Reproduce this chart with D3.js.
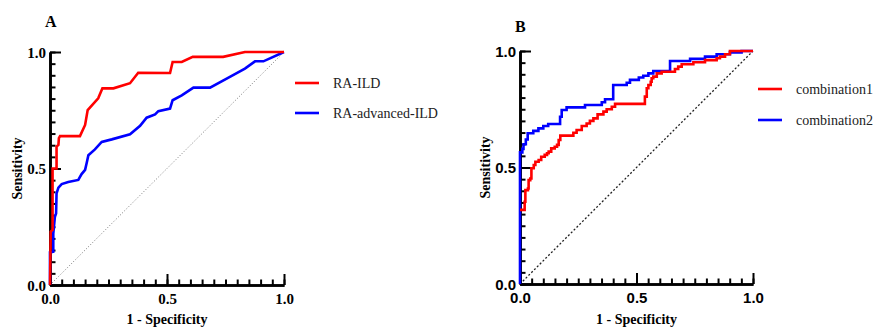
<!DOCTYPE html>
<html>
<head>
<meta charset="utf-8">
<script src="https://cdn.jsdelivr.net/npm/d3@7"></script>
<style>
  html, body { margin: 0; padding: 0; background: #fff; }
  svg { display: block; }
</style>
</head>
<body>
<div id="chart"></div>
<script>
// ---- data (fpr, tpr) ----
const raIld = [
  [0, 0], [0.003, 0.229], [0.011, 0.236], [0.011, 0.5], [0.028, 0.5], [0.028, 0.594],
  [0.036, 0.601], [0.038, 0.63], [0.043, 0.639], [0.128, 0.639], [0.15, 0.687],
  [0.161, 0.751], [0.206, 0.801], [0.224, 0.844], [0.271, 0.844], [0.342, 0.866],
  [0.377, 0.911], [0.513, 0.91], [0.524, 0.957], [0.563, 0.957], [0.61, 0.979],
  [0.74, 0.979], [0.833, 1.0], [1, 1]
];
const raAdvIld = [
  [0, 0], [0, 0.14], [0.014, 0.143], [0.014, 0.221], [0.021, 0.293], [0.026, 0.307],
  [0.028, 0.393], [0.036, 0.418], [0.05, 0.433], [0.078, 0.442], [0.121, 0.451],
  [0.135, 0.476], [0.15, 0.494], [0.157, 0.525], [0.164, 0.557], [0.192, 0.582],
  [0.221, 0.614], [0.264, 0.625], [0.342, 0.647], [0.385, 0.683], [0.413, 0.718],
  [0.449, 0.732], [0.463, 0.746], [0.513, 0.757], [0.524, 0.793], [0.563, 0.814],
  [0.613, 0.847], [0.684, 0.847], [0.755, 0.886], [0.833, 0.929], [0.876, 0.96],
  [0.912, 0.96], [1, 1]
];
// step curves: each point = x where the jump happens, y after the jump
const combination1 = [
  [0, 0.318], [0.02, 0.353], [0.023, 0.403], [0.034, 0.41], [0.037, 0.446], [0.044, 0.453],
  [0.049, 0.497], [0.059, 0.511], [0.066, 0.525], [0.08, 0.532], [0.091, 0.546],
  [0.106, 0.554], [0.116, 0.561], [0.123, 0.568], [0.134, 0.582], [0.149, 0.589],
  [0.159, 0.597], [0.166, 0.618], [0.173, 0.637], [0.229, 0.649], [0.243, 0.661],
  [0.265, 0.678], [0.286, 0.689], [0.3, 0.7], [0.315, 0.711], [0.333, 0.728],
  [0.358, 0.74], [0.372, 0.75], [0.394, 0.761], [0.408, 0.773], [0.536, 0.804],
  [0.544, 0.84], [0.551, 0.854], [0.561, 0.868], [0.565, 0.883], [0.572, 0.89],
  [0.587, 0.904], [0.608, 0.911], [0.665, 0.923], [0.679, 0.933], [0.694, 0.943],
  [0.744, 0.952], [0.794, 0.961], [0.844, 0.969], [0.858, 0.976], [0.88, 0.986],
  [0.901, 1.0], [1, 1]
];
const combination2 = [
  [0, 0], [0, 0.565], [0.01, 0.58], [0.015, 0.6], [0.025, 0.62], [0.033, 0.647],
  [0.057, 0.657], [0.079, 0.668], [0.1, 0.678], [0.121, 0.687], [0.172, 0.718],
  [0.179, 0.747], [0.2, 0.758], [0.279, 0.768], [0.351, 0.78], [0.365, 0.793],
  [0.4, 0.854], [0.458, 0.864], [0.472, 0.876], [0.51, 0.886], [0.529, 0.894],
  [0.551, 0.904], [0.572, 0.914], [0.644, 0.957], [0.73, 0.966], [0.794, 0.976],
  [0.844, 0.986], [0.901, 0.994], [0.951, 1.0], [1, 1]
];
const majorTicks = [0, 0.5, 1.0];
const minorTicks = d3.range(0, 1.0001, 0.05);
const legendA = ["RA-ILD", "RA-advanced-ILD"];
const legendB = ["combination1", "combination2"];
const colors = ["#ff0000", "#0000ff"];

const svg = d3.select("#chart").append("svg")
  .attr("width", 875)
  .attr("height", 327);

const serif = "'Liberation Serif', 'Times New Roman', serif";
const sans = "'Liberation Sans', Arial, sans-serif";

function drawPanel(opt) {
  const x = d3.scaleLinear().domain([0, 1]).range([opt.left, opt.left + opt.w]);
  const y = d3.scaleLinear().domain([0, 1]).range([opt.top + opt.h, opt.top]);
  const g = svg.append("g");

  // reference diagonal
  g.append("line")
    .attr("x1", x(0)).attr("y1", y(0))
    .attr("x2", x(1)).attr("y2", y(1))
    .attr("stroke", opt.diagColor)
    .attr("stroke-width", opt.diagWidth)
    .attr("stroke-dasharray", opt.diagDash);

  // axes: minor ticks then major ticks, all pointing inward
  const xMinor = g.append("g").attr("transform", `translate(0,${y(0)})`)
    .call(d3.axisBottom(x).tickValues(minorTicks).tickSize(-5.5).tickSizeOuter(0).tickFormat(""));
  const yMinor = g.append("g").attr("transform", `translate(${x(0)},0)`)
    .call(d3.axisLeft(y).tickValues(minorTicks).tickSize(-5.5).tickSizeOuter(0).tickFormat(""));
  const xMajor = g.append("g").attr("transform", `translate(0,${y(0)})`)
    .call(d3.axisBottom(x).tickValues(majorTicks).tickSize(-11).tickSizeOuter(0)
      .tickPadding(8).tickFormat(d3.format(".1f")));
  const yMajor = g.append("g").attr("transform", `translate(${x(0)},0)`)
    .call(d3.axisLeft(y).tickValues(majorTicks).tickSize(-11).tickSizeOuter(0)
      .tickPadding(4).tickFormat(d3.format(".1f")));

  [xMinor, yMinor, xMajor, yMajor].forEach(a => {
    a.select(".domain").attr("stroke", "#000").attr("stroke-width", 2.6);
    a.selectAll(".tick line").attr("stroke", "#000").attr("stroke-width", 2);
    a.selectAll("text")
      .attr("fill", "#000")
      .style("font-family", opt.tickFont)
      .style("font-weight", "bold")
      .style("font-size", "15px");
  });
  yMajor.selectAll("text").attr("dy", "0.36em");

  // curves
  const line = d3.line().x(d => x(d[0])).y(d => y(d[1])).curve(opt.curve);
  opt.series.forEach((s, i) => {
    g.append("path")
      .datum(s)
      .attr("fill", "none")
      .attr("stroke", colors[opt.order[i]])
      .attr("stroke-width", 2.6)
      .attr("stroke-linejoin", "miter")
      .attr("d", line);
  });

  // titles
  g.append("text")
    .attr("x", opt.left - 5).attr("y", opt.letterY)
    .style("font-family", serif).style("font-weight", "bold").style("font-size", "16px")
    .text(opt.letter);
  g.append("text")
    .attr("x", x(0.5)).attr("y", 324)
    .attr("text-anchor", "middle")
    .style("font-family", serif).style("font-weight", "bold").style("font-size", "14px")
    .text("1 - Specificity");
  g.append("text")
    .attr("transform", `translate(${opt.ylabX},${y(0.5)}) rotate(-90)`)
    .attr("text-anchor", "middle")
    .attr("dy", "0.35em")
    .style("font-family", serif).style("font-weight", "bold").style("font-size", "14px")
    .text("Sensitivity");

  // legend
  opt.legend.forEach((name, i) => {
    const ly = opt.legY + i * opt.legGap;
    g.append("line")
      .attr("x1", opt.legX).attr("x2", opt.legX + 24)
      .attr("y1", ly).attr("y2", ly)
      .attr("stroke", colors[i]).attr("stroke-width", 2.6);
    g.append("text")
      .attr("x", opt.legX + 38).attr("y", ly)
      .attr("dy", "0.35em")
      .attr("fill", "#222")
      .style("font-family", serif).style("font-size", "14px")
      .text(name);
  });
}

drawPanel({
  left: 50, top: 52, w: 234, h: 233,
  letter: "A", letterY: 27, ylabX: 17,
  tickFont: serif,
  diagColor: "#777", diagWidth: 1, diagDash: "1,2",
  curve: d3.curveLinear,
  series: [raAdvIld, raIld], order: [1, 0],
  legend: legendA, legX: 295, legY: 83, legGap: 30
});

drawPanel({
  left: 520, top: 51, w: 233, h: 233,
  letter: "B", letterY: 32, ylabX: 485,
  tickFont: sans,
  diagColor: "#222", diagWidth: 1.3, diagDash: "2,2",
  curve: d3.curveStepAfter,
  series: [combination2, combination1], order: [1, 0],
  legend: legendB, legX: 758, legY: 89, legGap: 31
});
</script>
</body>
</html>
